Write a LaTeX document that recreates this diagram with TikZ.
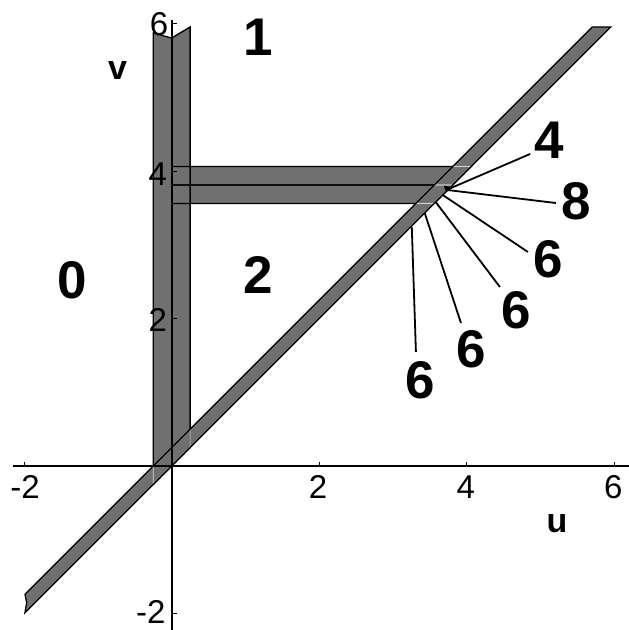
\documentclass[tikz,border=0pt]{standalone}
\usepackage{fontspec}
\setmainfont{Liberation Sans}
\definecolor{bandgray}{RGB}{112,112,112}
\definecolor{hiline}{RGB}{215,215,215}
\begin{document}
\begin{tikzpicture}[x=73.75pt,y=73.75pt,
  outline/.style={draw=black,line width=1.3pt,line join=miter},
  inner/.style={draw=hiline,line width=0.7pt},
  axisline/.style={draw=black,line width=1.8pt},
  tickmark/.style={draw=black,line width=1pt},
  leader/.style={draw=black,line width=1.8pt},
  ticklab/.style={font=\fontsize{33}{33}\selectfont,inner sep=0pt},
  region/.style={font=\fontsize{53}{53}\selectfont\bfseries,inner sep=0pt},
  axlab/.style={font=\fontsize{34}{34}\selectfont\bfseries,inner sep=0pt}]
\useasboundingbox (-2.328,-2.224) rectangle (6.197,6.319);

% strips
\def\stripL{(-0.25,5.871) -- (0,5.803) -- (0,0) -- (-0.25,-0.25) -- cycle}
\def\stripR{(0,5.803) -- (0.25,5.953) -- (0.25,0.25) -- (0,0) -- cycle}
\def\stripT{(0,3.81) -- (0,4.06) -- (4.06,4.06) -- (3.81,3.81) -- cycle}
\def\stripB{(0,3.56) -- (0,3.81) -- (3.81,3.81) -- (3.56,3.56) -- cycle}
\def\diag{(-1.989,-1.739) -- (-1.966,-1.854) -- (-1.989,-1.989) -- (5.953,5.953) -- (5.703,5.953) -- cycle}

\fill[bandgray] \stripL;
\fill[bandgray] \stripR;
\fill[bandgray] \stripT;
\fill[bandgray] \stripB;
\draw[outline] \stripL;
\draw[outline] \stripR;
\draw[outline] \stripT;
\draw[outline] \stripB;

% diagonal band
\fill[bandgray] \diag;
\begin{scope}
  \clip \diag;
  \draw[inner] \stripL;
  \draw[inner] \stripR;
  \draw[inner] \stripT;
  \draw[inner] \stripB;
\end{scope}
\draw[outline] \diag;

% small dark notch
\fill[black] (3.69,3.80) -- (3.775,3.79) -- (3.775,3.735) -- (3.72,3.72) -- cycle;

% axes
\draw[axisline] (-2.152,0) -- (6.197,0);
\draw[axisline] (0,-2.224) -- (0,6.047);
\foreach \t in {-2,2,4,6}{
  \draw[tickmark] (\t,0) -- (\t,0.055);
  \draw[tickmark] (0,\t) -- (0.07,\t);
}

% tick labels
\node[ticklab] (um2) at (-1.989,-0.285) {-2};
\node[ticklab] (up2) at (1.984,-0.285) {2};
\node[ticklab] (up4) at (3.99,-0.285) {4};
\node[ticklab] (up6) at (5.99,-0.285) {6};
\node[ticklab,anchor=east] (vp6) at (-0.045,5.99) {6};
\node[ticklab,anchor=east] (vp4) at (-0.06,3.96) {4};
\node[ticklab,anchor=east] (vp2) at (-0.06,1.98) {2};
\node[ticklab,anchor=east] (vm2) at (-0.08,-1.975) {-2};

% axis labels
\node[axlab] (ulab) at (5.224,-0.786) {u};
\node[axlab] (vlab) at (-0.735,5.356) {v};

% region labels
\node[region] (r1) at (1.17,5.817) {1};
\node[region] (r0) at (-1.352,2.522) {0};
\node[region] (r2) at (1.17,2.59) {2};
\node[region] (l4) at (5.116,4.42) {4};
\node[region] (l8) at (5.482,3.593) {8};
\node[region] (l6a) at (5.103,2.807) {6};
\node[region] (l6b) at (4.669,2.115) {6};
\node[region] (l6c) at (4.058,1.586) {6};
\node[region] (l6d) at (3.367,1.166) {6};

% leader lines
\coordinate (s4) at (3.756,3.756);   \coordinate (e4) at (4.861,4.231);
\coordinate (s8) at (3.742,3.742);   \coordinate (e8) at (5.211,3.566);
\coordinate (s6a) at (3.675,3.675);  \coordinate (e6a) at (4.831,2.902);
\coordinate (s6b) at (3.58,3.58);    \coordinate (e6b) at (4.451,2.427);
\coordinate (s6c) at (3.431,3.431);  \coordinate (e6c) at (3.923,1.939);
\coordinate (s6d) at (3.256,3.241);  \coordinate (e6d) at (3.312,1.546);
\draw[leader] (s4) -- (e4);
\draw[leader] (s8) -- (e8);
\draw[leader] (s6a) -- (e6a);
\draw[leader] (s6b) -- (e6b);
\draw[leader] (s6c) -- (e6c);
\draw[leader] (s6d) -- (e6d);
\end{tikzpicture}
\end{document}
